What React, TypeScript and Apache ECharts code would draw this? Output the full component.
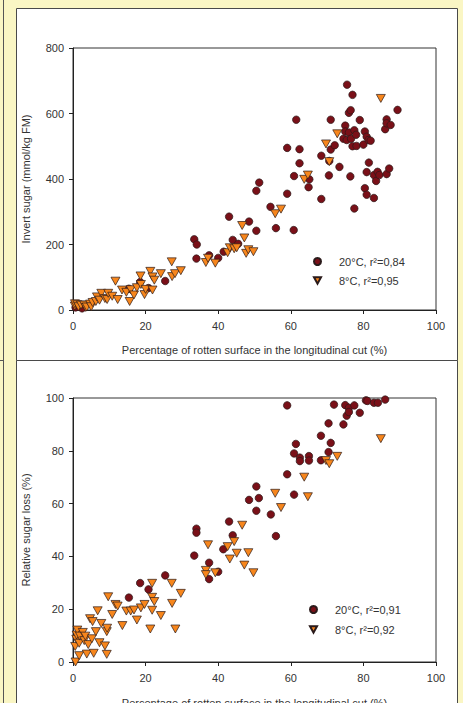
import React, { useEffect, useRef } from "react";
import * as echarts from "echarts";

const xTicks = [0, 20, 40, 60, 80, 100];
const topYTicks = [0, 200, 400, 600, 800];
const botYTicks = [0, 20, 40, 60, 80, 100];

const top20Name = "20°C, r²=0,84";
const top8Name = "8°C, r²=0,95";
const bot20Name = "20°C, r²=0,91";
const bot8Name = "8°C, r²=0,92";

const top20 = [
  [0.7, 8], [2.5, 5], [15.4, 65], [18.5, 85.5], [20.8, 67], [25.4, 88.5], [33.4, 216], [34.1, 200],
  [34.0, 157], [37.5, 167], [40.0, 159], [41.5, 178], [43.0, 285], [44.0, 214], [45.5, 202], [48.5, 270],
  [50.5, 242], [50.5, 364], [51.3, 389], [54.4, 315], [55.9, 250], [59.0, 495], [59.0, 355], [60.8, 244],
  [60.9, 409], [61.5, 581], [62.4, 491], [62.4, 448], [64.9, 375], [65.1, 399], [68.4, 471], [68.4, 339],
  [70.5, 411], [70.6, 455], [71.0, 581], [71.0, 490], [72.1, 503], [73.4, 437], [74.5, 523], [75.0, 563],
  [75.0, 545], [75.4, 519], [75.5, 688], [76.0, 602], [76.0, 542], [76.4, 408], [76.5, 610], [76.6, 523],
  [77.0, 657], [77.0, 500], [77.5, 549], [77.5, 310], [78.0, 535], [78.1, 501], [79.0, 580], [80.0, 505],
  [80.4, 545], [80.4, 372], [80.9, 529], [80.9, 421], [80.9, 352], [81.4, 519], [81.5, 450], [82.0, 517],
  [82.9, 412], [82.9, 342], [83.5, 394], [83.9, 422], [84.4, 412], [86.0, 552], [86.4, 582], [86.4, 570],
  [86.4, 415], [87.1, 432], [87.5, 565], [89.4, 611],
];

const top8 = [
  [0.5, 12], [0.55, 19], [1.2, 16], [1.5, 10], [2.2, 15], [3.1, 15], [3.5, 8], [3.8, 9], [4.7, 18],
  [5.0, 10], [5.4, 23], [6.3, 26], [6.6, 40], [7.3, 30], [7.8, 51], [8.8, 35], [9.4, 32], [9.7, 51],
  [10.8, 42], [11.7, 88], [12.3, 32], [13.5, 61], [14.7, 54], [15.6, 26], [15.9, 62], [16.8, 46],
  [17.6, 68], [18.6, 104], [18.7, 78], [19.7, 47], [20.0, 63], [21.3, 118], [21.9, 101], [21.9, 61],
  [22.4, 91], [24.2, 111], [27.2, 147], [27.3, 102], [28.1, 111], [29.7, 120], [36.6, 145], [37.2, 158],
  [39.2, 143], [42.6, 175], [43.2, 190], [44.4, 187], [45.1, 190], [46.6, 258], [47.2, 220], [47.7, 173],
  [48.3, 184], [49.7, 178], [55.7, 294], [57.3, 308], [63.7, 399], [64.7, 412], [69.7, 507], [70.6, 453],
  [72.8, 538], [84.8, 646],
];

const bot20 = [
  [15.4, 24.4], [18.5, 29.9], [20.8, 27.5], [25.4, 32.8], [33.4, 40.3], [34.0, 50.5], [34.0, 49],
  [37.5, 37.6], [37.5, 31.4], [40.0, 34.2], [41.4, 42.7], [43.0, 53.2], [44.0, 48], [48.5, 61.4],
  [50.5, 66.5], [50.5, 57.3], [51.2, 62.1], [54.5, 55.9], [55.9, 47.7], [59.0, 97.2], [59.0, 71.1],
  [60.9, 79], [60.9, 63.4], [61.4, 82.6], [62.5, 77.4], [62.5, 76.1], [65.0, 78], [65.0, 76.3],
  [68.3, 85.7], [68.3, 76.4], [70.4, 90.4], [70.4, 79.5], [71.0, 83], [71.9, 97.5], [74.5, 90],
  [75.0, 97.3], [75.4, 93.3], [76.0, 96.3], [76.0, 94.7], [77.5, 97.2], [79.0, 94.4], [80.7, 99.1],
  [81.1, 98.9], [82.9, 98.2], [84.0, 98.2], [86.0, 99.4],
];

const bot8 = [
  [0.6, 5.9], [0.7, 0], [0.9, 8.6], [1.0, 10.2], [1.2, 12.1], [1.7, 2.4], [1.7, 7.1], [1.9, 9.8],
  [2.7, 11.2], [3.1, 8.1], [3.4, 9.8], [3.8, 3], [4.2, 6.6], [4.7, 16.4], [5.2, 8.8], [5.4, 15.3],
  [5.7, 3.3], [6.3, 11.5], [6.8, 19.4], [7.3, 7.3], [7.8, 14.6], [8.8, 6.1], [9.3, 11.5], [9.3, 2.9],
  [9.4, 12.8], [9.7, 24.7], [10.8, 18], [11.7, 21.8], [12.3, 21.2], [13.6, 13.8], [14.7, 19.3],
  [15.9, 19.3], [16.8, 19.7], [17.6, 15.9], [18.7, 20.5], [19.7, 21.8], [21.3, 12.5], [21.8, 29.8],
  [21.8, 24.5], [21.8, 19.6], [22.4, 22.9], [24.2, 17.6], [27.2, 29.8], [27.3, 22.2], [28.2, 12.5],
  [29.7, 26], [36.6, 34.7], [36.6, 33.1], [37.2, 44.4], [39.2, 33.8], [42.6, 43.7], [43.2, 39],
  [44.4, 45.6], [45.1, 41.2], [46.6, 51.8], [47.2, 36.7], [48.3, 41.4], [49.7, 33.8], [55.7, 63.9],
  [57.3, 58.5], [63.7, 70], [64.7, 62.6], [69.7, 76.3], [70.6, 75.1], [72.8, 77.9], [84.8, 84.6],
];

const FONT = "'Liberation Sans', Arial, sans-serif";
const TXT = "#333333";
const TRI = "path://M0,0L10,0L5,9Z";
const RED = "#7a1018";
const ORANGE = "#f7861c";

function xAxis(gridIndex: number, nameGap: number) {
  return {
    type: "value",
    gridIndex,
    min: xTicks[0],
    max: xTicks[xTicks.length - 1],
    interval: xTicks[1] - xTicks[0],
    name: "Percentage of rotten surface in the longitudinal cut (%)",
    nameLocation: "middle",
    nameGap,
    nameMoveOverlap: false,
    nameTextStyle: { fontFamily: FONT, fontSize: 11, color: TXT },
    axisLine: { show: true, lineStyle: { color: "#222", width: 1 } },
    axisTick: { show: true, length: 4, lineStyle: { color: "#222" } },
    axisLabel: { fontFamily: FONT, fontSize: 11, color: TXT, margin: 10 },
    splitLine: { show: false },
  };
}

function yAxis(gridIndex: number, ticks: number[], name: string, nameGap: number) {
  return {
    type: "value",
    gridIndex,
    min: ticks[0],
    max: ticks[ticks.length - 1],
    interval: ticks[1] - ticks[0],
    name,
    nameLocation: "middle",
    nameGap,
    nameMoveOverlap: false,
    nameTextStyle: { fontFamily: FONT, fontSize: 11, color: TXT },
    axisLine: { show: true, lineStyle: { color: "#222", width: 1 } },
    axisTick: { show: true, length: 4, lineStyle: { color: "#222" } },
    axisLabel: { fontFamily: FONT, fontSize: 11, color: TXT, margin: 9 },
    splitLine: { show: false },
  };
}

function legend(left: number, top: number, pad: number, gap: number, n20: string, n8: string) {
  return {
    orient: "vertical",
    left,
    top,
    padding: 0,
    itemWidth: 7,
    itemHeight: 7,
    itemGap: gap,
    data: [
      { name: n20, icon: "circle" },
      { name: n8, icon: TRI },
    ],
    textStyle: { fontFamily: FONT, fontSize: 11, color: TXT, padding: [0, 0, 0, pad] },
  };
}

function scatter(name: string, data: number[][], idx: number, circle: boolean) {
  return {
    type: "scatter",
    name,
    xAxisIndex: idx,
    yAxisIndex: idx,
    data,
    symbol: circle ? "circle" : TRI,
    symbolSize: circle ? 7.5 : [9, 8],
    itemStyle: {
      color: circle ? RED : ORANGE,
      borderColor: "#2a1a1a",
      borderWidth: 0.7,
      opacity: 1,
    },
    z: circle ? 3 : 4,
  };
}

export default function App() {
  const ref = useRef<HTMLDivElement>(null);
  useEffect(() => {
    if (!ref.current) return;
    const chart = echarts.init(ref.current, null, { renderer: "svg" });
    chart.setOption({
      animation: false,
      backgroundColor: "#faf6c4",
      textStyle: { fontFamily: FONT },
      graphic: [
        { type: "rect", z: -100, shape: { x: 16.5, y: 8.5, width: 441, height: 352 }, style: { fill: "#ffffff", stroke: "#4a4a4a", lineWidth: 1 } },
        { type: "rect", z: -100, shape: { x: 16.5, y: 360.5, width: 441, height: 360 }, style: { fill: "#ffffff", stroke: "#4a4a4a", lineWidth: 1 } },
        { type: "line", z: -100, shape: { x1: 3.5, y1: 0, x2: 3.5, y2: 703 }, style: { stroke: "#555", lineWidth: 1 } },
        { type: "line", z: -100, shape: { x1: 0, y1: 360.5, x2: 4, y2: 360.5 }, style: { stroke: "#555", lineWidth: 1 } },
      ],
      grid: [
        { left: 73, top: 48, width: 363, height: 262, show: true, backgroundColor: "transparent", borderColor: "#333", borderWidth: 1, outerBoundsMode: "none", containLabel: false },
        { left: 73, top: 398, width: 363, height: 264, show: true, backgroundColor: "transparent", borderColor: "#333", borderWidth: 1, outerBoundsMode: "none", containLabel: false },
      ],
      xAxis: [xAxis(0, 34), xAxis(1, 35)],
      yAxis: [
        yAxis(0, topYTicks, "Invert sugar (mmol/kg FM)", 42),
        yAxis(1, botYTicks, "Relative sugar loss (%)", 42),
      ],
      legend: [
        legend(313, 256, 13, 8, top20Name, top8Name),
        legend(309, 604, 13, 9, bot20Name, bot8Name),
      ],
      series: [
        scatter(top20Name, top20, 0, true),
        scatter(top8Name, top8, 0, false),
        scatter(bot20Name, bot20, 1, true),
        scatter(bot8Name, bot8, 1, false),
      ],
    });
    return () => chart.dispose();
  }, []);
  return (
    <div
      ref={ref}
      style={{ position: "fixed", left: 0, top: 0, width: 463, height: 703 }}
    />
  );
}
